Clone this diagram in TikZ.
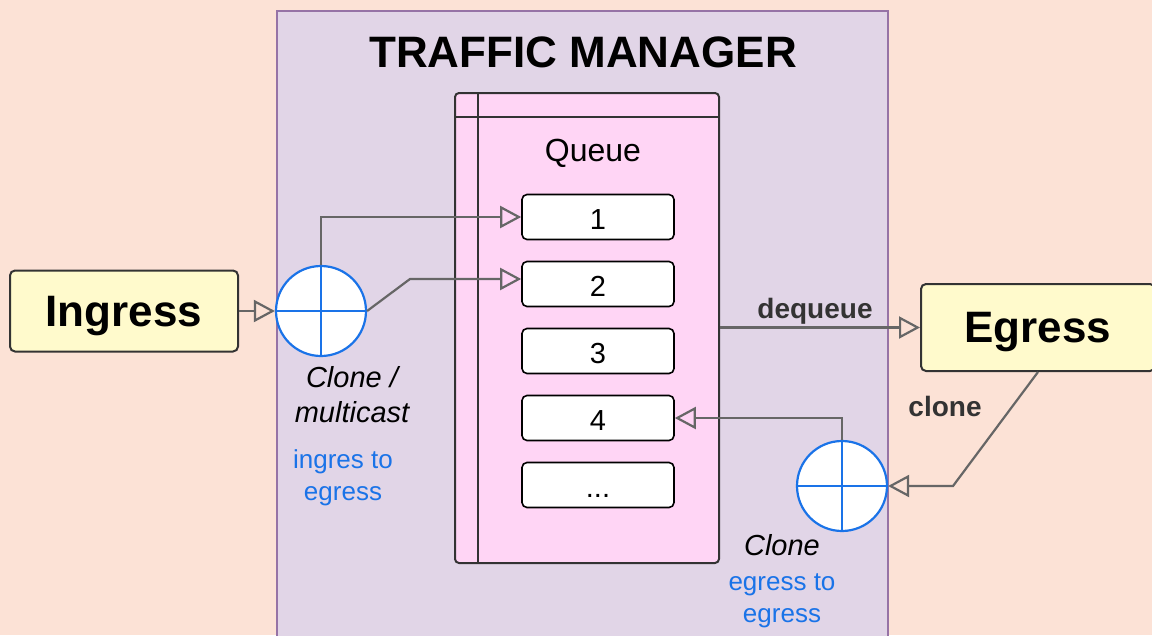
\documentclass[tikz,border=0pt]{standalone}
\usepackage{fontspec}
\setmainfont{Liberation Sans}
\usetikzlibrary{arrows.meta}
\definecolor{bgpeach}{HTML}{FCE2D6}
\definecolor{tmfill}{HTML}{E1D5E7}
\definecolor{tmborder}{HTML}{9673A6}
\definecolor{qfill}{HTML}{FFD5F5}
\definecolor{yfill}{HTML}{FFFACC}
\definecolor{dark}{HTML}{333333}
\definecolor{linegray}{HTML}{666666}
\definecolor{cblue}{HTML}{1A73E8}
\tikzset{
  conn/.style={draw=linegray, line width=2.2pt, -{Triangle[open, length=21pt, width=22pt, line width=2.2pt]}},
  endbox/.style={draw=dark, fill=yfill, line width=2pt, rounded corners=5pt, text depth=0pt, font=\bfseries\fontsize{44}{50}\selectfont},
  itembox/.style={draw=black, fill=white, line width=1.6pt, rounded corners=5pt, minimum width=152pt, minimum height=45pt, inner sep=0pt, text height=24pt, text depth=0pt, font=\fontsize{29}{32}\selectfont},
  clonecirc/.style={circle, draw=cblue, fill=white, line width=2.2pt, minimum size=90pt, inner sep=0pt,
    path picture={\draw[cblue, line width=2.2pt] (path picture bounding box.north) -- (path picture bounding box.south)
      (path picture bounding box.west) -- (path picture bounding box.east);}},
  italabel/.style={align=center, font=\itshape\fontsize{29}{35}\selectfont, text=black},
  bluelabel/.style={align=center, font=\fontsize{26}{32}\selectfont, text=cblue},
  boldlabel/.style={font=\bfseries\fontsize{28}{32}\selectfont, text=dark}
}
\begin{document}
\begin{tikzpicture}[x=1pt, y=-1pt]
\useasboundingbox (0,0) rectangle (1152,635);
\fill[bgpeach] (0,0) rectangle (1152,635);
% traffic manager
\draw[tmborder, fill=tmfill, line width=1.2pt] (277,11) rectangle (888,650);
\node[font=\bfseries\fontsize{44}{50}\selectfont] (title) at (583,52) {TRAFFIC MANAGER};
% queue
\node[draw=dark, fill=qfill, line width=2pt, rounded corners=4pt, minimum width=264pt, minimum height=470pt, inner sep=0pt] (queue) at (587,328) {};
\draw[dark, line width=2pt] (478,93) -- (478,563);
\draw[dark, line width=2pt] (455,117) -- (719,117);
\node[font=\fontsize{32}{36}\selectfont] (qlabel) at (593,153) {Queue};
\node[itembox] (i1) at (598,217) {1};
\node[itembox] (i2) at (598,284) {2};
\node[itembox] (i3) at (598,351) {3};
\node[itembox] (i4) at (598,418) {4};
\node[itembox] (i5) at (598,485) {...};
% ends
\node[endbox, minimum width=228pt, minimum height=81pt, inner sep=0pt] (ingress) at (124,311) {Ingress};
\node[endbox, minimum width=234pt, minimum height=87pt, inner sep=0pt] (egress) at (1038,327.5) {Egress};
% circles
\node[clonecirc] (c1) at (321,311) {};
\node[clonecirc] (c2) at (842,486) {};
% connectors
\coordinate (k1) at (410,279);
\coordinate (k2) at (953,486);
\draw[conn] (ingress.east) -- (c1.west);
\draw[conn] (c1.north) |- (i1.west);
\draw[conn] (c1.east) -- (k1) -- (k1 -| i2.west);
\draw[conn] (queue.east |- egress.west) -- (egress.west);
\draw[conn] (egress.south) -- (k2) -- (c2.east);
\draw[conn] (c2.north) |- (i4.east);
% labels
\node[italabel] (l1) at (352,395) {Clone /\\multicast};
\node[bluelabel] (l2) at (343,478) {ingres to\\egress};
\node[italabel] (l3) at (782,545) {Clone};
\node[bluelabel] (l4) at (782,601) {egress to\\egress};
\node[boldlabel] (l5) at (815,311) {dequeue};
\node[boldlabel] (l6) at (945,406) {clone};
\end{tikzpicture}
\end{document}
